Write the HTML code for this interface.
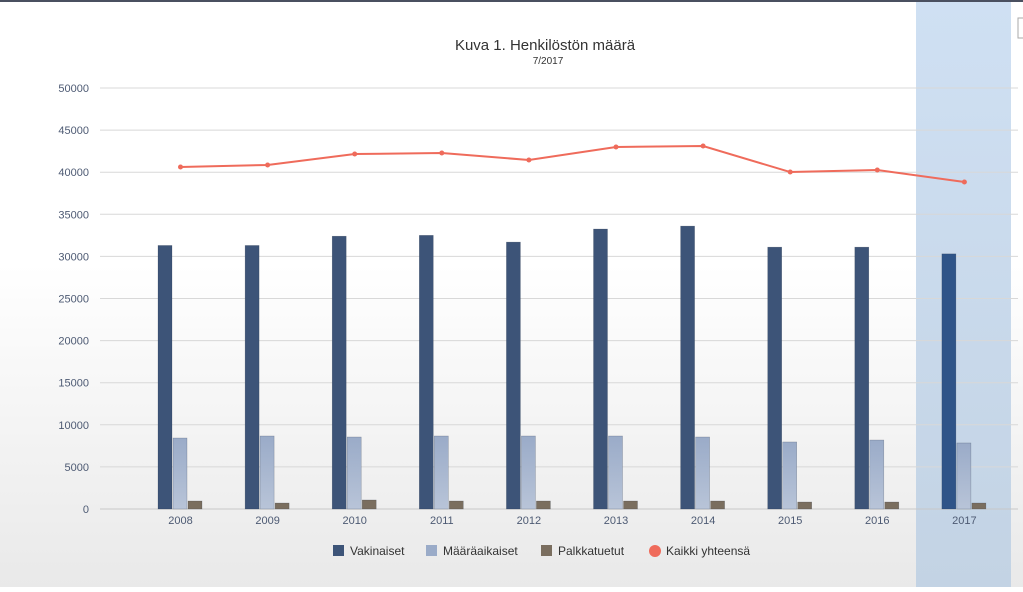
<!DOCTYPE html>
<html><head><meta charset="utf-8">
<style>
html,body{margin:0;padding:0;}
body{width:1023px;height:587px;overflow:hidden;background:linear-gradient(#ffffff 0%,#ffffff 45%,#e9e9e9 100%);font-family:"Liberation Sans",sans-serif;}
</style></head>
<body>
<svg id="chart" width="1023" height="587" xmlns="http://www.w3.org/2000/svg">
<defs>
<linearGradient id="gBand" x1="0" y1="0" x2="0" y2="1"><stop offset="0" stop-color="#cfe0f3"/><stop offset="1" stop-color="#c3d3e4"/></linearGradient>
<linearGradient id="gLight" x1="0" y1="0" x2="0" y2="1"><stop offset="0" stop-color="#9aabc8"/><stop offset="1" stop-color="#b8c4d8"/></linearGradient>
</defs>
<rect x="0" y="0" width="1023" height="2" fill="#4a5060"/>
<rect x="916" y="2" width="95" height="585" fill="url(#gBand)"/>
<rect x="1018" y="18" width="8" height="20" fill="#fff" stroke="#aaa"/>
<text x="545" y="50" text-anchor="middle" font-size="15" fill="#333">Kuva 1. Henkilöstön määrä</text>
<text x="548" y="64" text-anchor="middle" font-size="10" fill="#333">7/2017</text>
<g id="grid"></g><g id="bars"></g><g id="line"></g><g id="xlabels"></g>
<g id="legend">
<rect x="333" y="545" width="11" height="11" fill="#3d5478"/>
<text x="350" y="555" font-size="12" fill="#333">Vakinaiset</text>
<rect x="426" y="545" width="11" height="11" fill="#9aabc8"/>
<text x="443" y="555" font-size="12" fill="#333">Määräaikaiset</text>
<rect x="541" y="545" width="11" height="11" fill="#7a6e5f"/>
<text x="558" y="555" font-size="12" fill="#333">Palkkatuetut</text>
<circle cx="655" cy="551" r="6" fill="#ef6b5b"/>
<text x="666" y="555" font-size="12" fill="#333">Kaikki yhteensä</text>
</g>
</svg>
<script>
const categories=["2008","2009","2010","2011","2012","2013","2014","2015","2016","2017"];
const vakinaiset=[31300,31300,32400,32500,31700,33250,33600,31100,31100,30300];
const maaraaikaiset=[8430,8670,8550,8670,8670,8670,8550,7960,8190,7840];
const palkkatuetut=[950,710,1070,950,950,950,950,830,830,710];
const kaikki=[40620,40860,42160,42280,41450,42990,43110,40020,40260,38840];
const yTicks=[0,5000,10000,15000,20000,25000,30000,35000,40000,45000,50000];
const NS="http://www.w3.org/2000/svg";
function y(v){return 509-v*421/50000;}
function x(i){return 180.5+i*87.1;}
function mk(tag,attrs,parent){const e=document.createElementNS(NS,tag);for(const k in attrs)e.setAttribute(k,attrs[k]);document.getElementById(parent).appendChild(e);return e;}
yTicks.forEach(t=>{
 const l=mk('line',{x1:100,x2:1018,y1:y(t),y2:y(t),stroke:t===0?'#c8c8c8':'#d8d8d8','stroke-width':1},'grid');
 
 
 const tx=mk('text',{x:89,y:y(t)+4,'text-anchor':'end','font-size':11,fill:'#4d5a73'},'grid');
 tx.textContent=t;
 
 
});
categories.forEach((c,i)=>{
 const cx=x(i);
 const series=[[vakinaiset,'#3d5478',-22.5],[maaraaikaiset,'url(#gLight)',-7.5],[palkkatuetut,'#7a6e5f',7.5]];
 series.forEach((s,j)=>{
  const v=s[0][i];
  const fill=(j===0&&i===9)?'#2f5488':s[1];
  const r=mk('rect',{x:cx+s[2],y:y(v),width:14,height:509-y(v),fill:fill,stroke:'rgba(40,50,70,0.4)','stroke-width':0.5},'bars');
  
  
 });
 const tx=mk('text',{x:cx,y:524,'text-anchor':'middle','font-size':11,fill:'#4d5a73'},'xlabels');
 tx.textContent=c;
 
 
});
const pts=kaikki.map((v,i)=>x(i)+','+y(v)).join(' ');
const pl=mk('polyline',{points:pts,fill:'none',stroke:'#ef6b5b','stroke-width':2},'line');


kaikki.forEach((v,i)=>{
 const c=mk('circle',{cx:x(i),cy:y(v),r:2.5,fill:'#ef6b5b'},'line');
 
 
});
</script>
</body></html>
